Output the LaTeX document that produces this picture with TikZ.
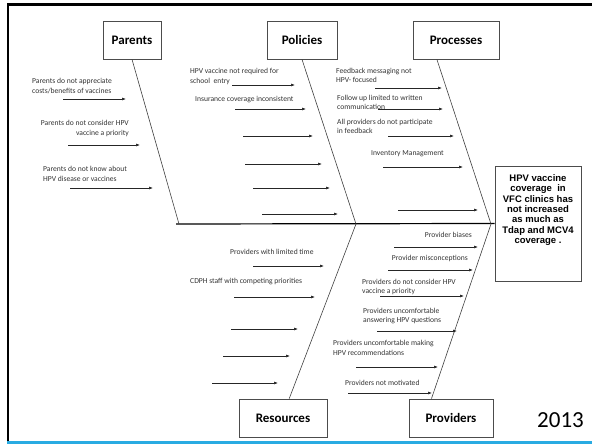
\documentclass[tikz,border=0pt]{standalone}
\usepackage{fontspec}
\setmainfont{Carlito}
\newfontfamily\arialfont{Liberation Sans}
\usetikzlibrary{arrows.meta, positioning, calc}
\definecolor{slideblue}{RGB}{41,171,226}

\begin{document}
\begin{tikzpicture}[x=1pt, y=-1pt,
    every node/.style={font=\fontsize{7.6}{9.6}\selectfont, text=black!80, inner sep=0pt},
    catbox/.style={draw=black!70, line width=0.8pt, minimum height=38,
      font=\fontsize{13}{15}\selectfont\bfseries, text=black},
    cause/.style={-{Latex[length=4pt,width=3pt]}, line width=0.6pt, black!85},
    bone/.style={black!75, line width=0.6pt}]
  \useasboundingbox (0,0) rectangle (592,444);
  % Slide frame
  \draw[line width=2.7pt] (7,4.7) -- (592,4.7);
  \draw[line width=2pt] (8,3.4) -- (8,441.5);
  \draw[slideblue, line width=2.5pt] (7,442.7) -- (592,442.7);
  % Category boxes
  \node[catbox, minimum width=58] (parents) at (132,40) {Parents};
  \node[catbox, minimum width=70] (policies) at (302,40) {Policies};
  \node[catbox, minimum width=86] (processes) at (456,40) {Processes};
  \node[catbox, minimum width=88] (resources) at (283,418) {Resources};
  \node[catbox, minimum width=84] (providers) at (451,418) {Providers};
  % Effect box
  \node[draw=black!70, line width=0.8pt, minimum width=86, minimum height=115] (effect) at (538,223.5) {};
  \node[font=\arialfont\bfseries\fontsize{9.5}{10.3}\selectfont, text=black, align=center] (effecttext) at (538,210)
    {HPV vaccine\\coverage~ in\\VFC clinics has\\not increased\\as much as\\Tdap and MCV4\\coverage~.};
  % Spine and bones
  \coordinate (tail) at (176,224);
  \coordinate (jpar) at (179,224);
  \coordinate (jpol) at (356,224);
  \coordinate (jhead) at (491,224);
  \draw[line width=1.2pt] (tail) -- (effect.west);
  \draw[bone] (parents.south) -- (jpar);
  \draw[bone] (policies.south) -- (jpol);
  \draw[bone] ($(processes.south west)!0.28!(processes.south east)$) -- (jhead);
  \draw[bone] (jpol) -- ($(resources.north west)!0.57!(resources.north east)$);
  \draw[bone] (jhead) -- ($(providers.north west)!0.27!(providers.north east)$);
  % Cause arrows
  \foreach \xa/\yy/\xb [count=\i] in {63/99/126, 68/145/140, 70/188/153,
      232/85/295, 235/109/306, 243/136/313, 245/164/322, 253/188/330, 262/214/338,
      375/88/442, 378/109/443, 388/136/454, 383/167/463, 398/210/478,
      253/266/324, 234/297/315, 231/329/298, 223/356/290, 212/383/278,
      394/247/478, 388/270/473, 380/296/464, 377/331/457, 356/367/438, 348/393/432} {
    \coordinate (s\i) at (\xa,\yy);
    \coordinate (e\i) at (\xb,\yy);
    \draw[cause] (s\i) -- (e\i);
  }
  % Parents causes
  \node[anchor=west, align=left] (par1) at (32,86) {Parents do not appreciate\\costs/benefits of vaccines};
  \node[anchor=east, align=right] (par2) at (129,128.5) {Parents do not consider HPV\\vaccine a priority};
  \node[anchor=west, align=left] (par3) at (43,174) {Parents do not know about\\HPV disease or vaccines};
  % Policies causes
  \node[anchor=west, align=left] (pol1) at (190,76.5) {HPV vaccine not required for\\school~ entry};
  \node[anchor=west] (pol2) at (195,100) {Insurance coverage inconsistent};
  % Processes causes
  \node[anchor=west, align=left] (pro1) at (336,75.5) {Feedback messaging not\\HPV- focused};
  \node[anchor=west, align=left] (pro2) at (337,102.5) {Follow up limited to written\\communication};
  \node[anchor=west, align=left] (pro3) at (337,126.5) {All providers do not participate\\in feedback};
  \node[anchor=west] (pro4) at (371,154) {Inventory Management};
  % Resources causes
  \node[anchor=west] (res1) at (230,252) {Providers with limited time};
  \node[anchor=west] (res2) at (190,282) {CDPH staff with competing priorities};
  % Providers causes
  \node[anchor=east] (prv1) at (472,235) {Provider biases};
  \node[anchor=east] (prv2) at (468,258) {Provider misconceptions};
  \node[anchor=west, align=left] (prv3) at (362,287) {Providers do not consider HPV\\vaccine a priority};
  \node[anchor=west, align=left] (prv4) at (363,316) {Providers uncomfortable\\answering HPV questions};
  \node[anchor=west, align=left] (prv5) at (333,348) {Providers uncomfortable making\\HPV recommendations};
  \node[anchor=west] (prv6) at (345,383) {Providers not motivated};
  % Year
  \node[anchor=west, font=\fontsize{23}{26}\selectfont, text=black] (year) at (537,420) {2013};
\end{tikzpicture}
\end{document}
